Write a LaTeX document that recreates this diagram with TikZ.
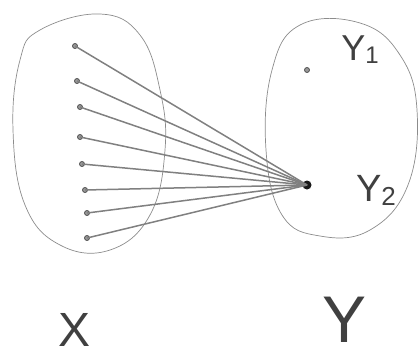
\documentclass[tikz,border=0pt]{standalone}
\usepackage{fontspec}
\setmainfont{Liberation Sans}
\begin{document}
\begin{tikzpicture}[x=1pt,y=-1pt,
  setline/.style={draw=black!45, line width=0.7pt},
  link/.style={draw=black!50, line width=1.5pt},
  xdot/.style={circle, draw=black!70, fill=black!40, line width=0.8pt, inner sep=0pt, minimum size=5pt},
  ydot/.style={circle, fill=black!90, inner sep=0pt, minimum size=9pt},
  lab/.style={text=black!75, inner sep=0pt}]
\useasboundingbox (0,0) rectangle (420,356);
% sets
\draw[setline] plot[smooth cycle, tension=0.7] coordinates
  {(100,14) (140,35) (160,90) (165,150) (150,215) (110,250) (60,245) (25,205) (13,130) (20,60) (40,30)};
\draw[setline] plot[smooth cycle, tension=0.7] coordinates
  {(300,25) (360,23) (400,55) (417,110) (408,185) (370,230) (320,236) (282,215) (266,150) (272,70)};
% points of X
\node[xdot] (x1) at (75,46) {};
\node[xdot] (x2) at (77,81) {};
\node[xdot] (x3) at (80,107) {};
\node[xdot] (x4) at (80,137) {};
\node[xdot] (x5) at (82,164) {};
\node[xdot] (x6) at (85,190) {};
\node[xdot] (x7) at (87,213) {};
\node[xdot] (x8) at (87,238) {};
% points of Y
\node[xdot] (y1) at (307,70) {};
\node[ydot] (y2) at (307,185) {};
% connectors
\foreach \i in {1,...,8} \draw[link] (x\i.center) -- (y2.center);
% labels
\node[lab, font=\fontsize{36}{36}\selectfont] (ly1) at (360,50) {Y\raisebox{-3pt}{\fontsize{24}{24}\selectfont 1}};
\node[lab, font=\fontsize{38}{38}\selectfont] (ly2) at (376,190) {Y\raisebox{-4pt}{\fontsize{26}{26}\selectfont 2}};
\node[lab, font=\fontsize{48}{48}\selectfont] (lx) at (75,330) {X};
\node[lab, font=\fontsize{66}{66}\selectfont] (ly) at (345,320) {Y};
\end{tikzpicture}
\end{document}
